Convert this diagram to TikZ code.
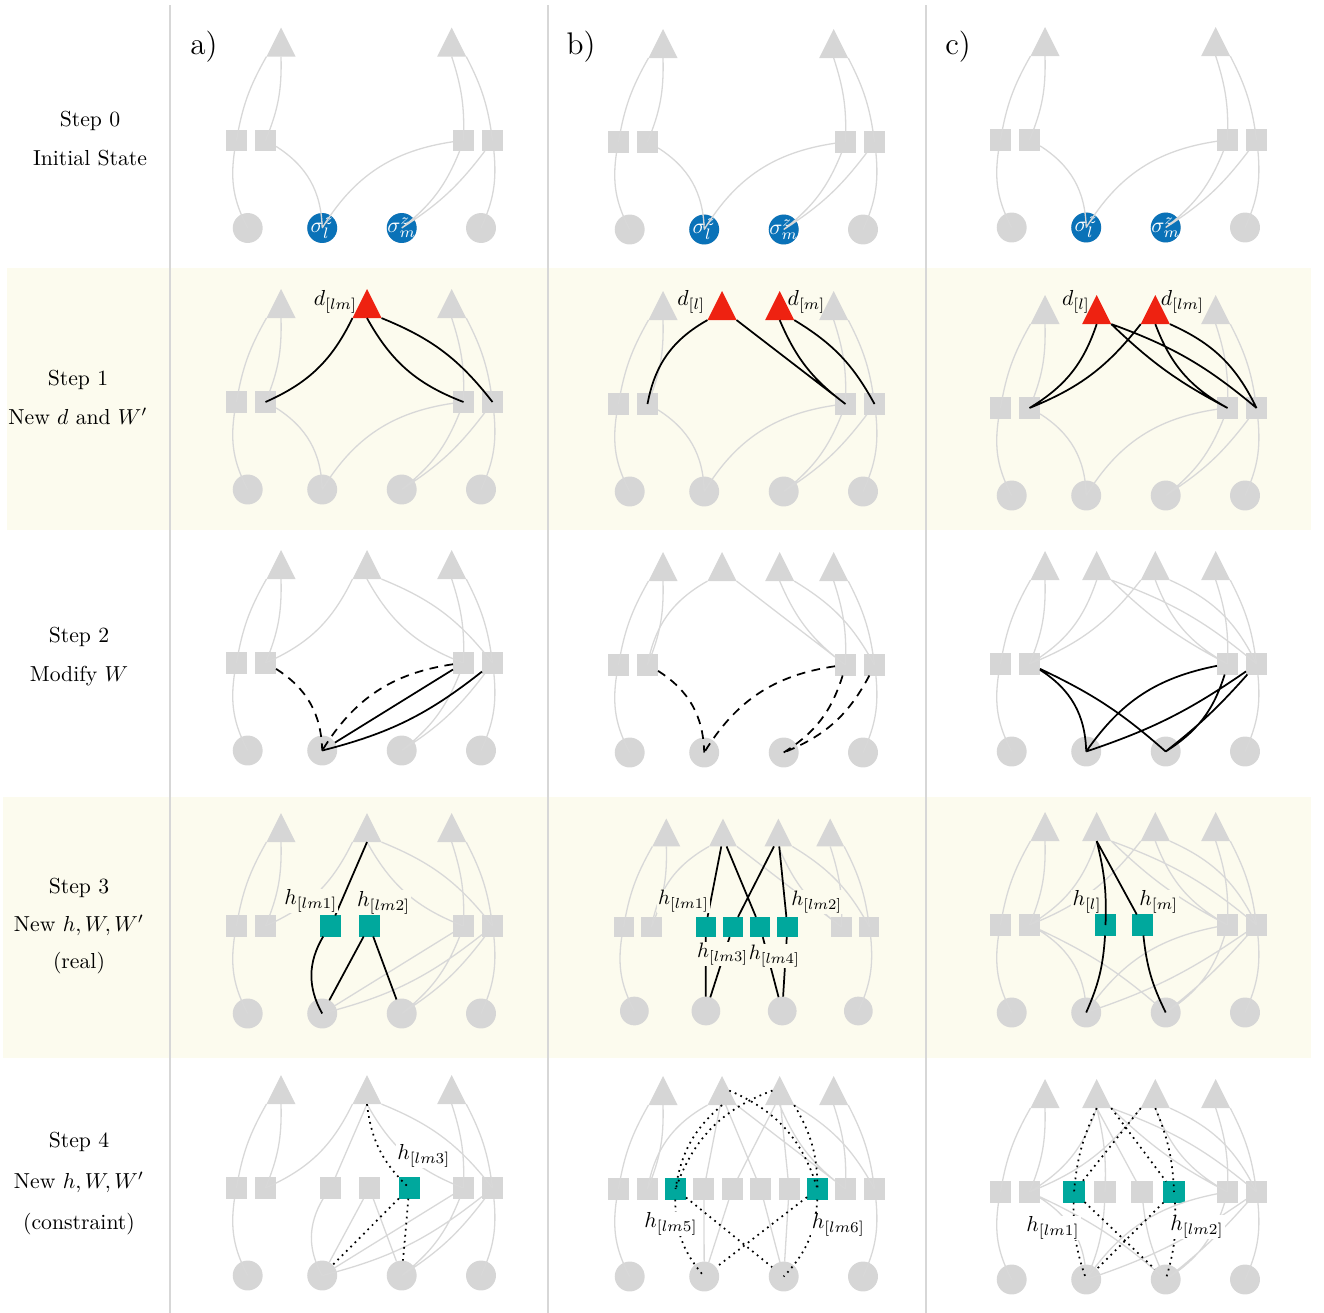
\documentclass[tikz,border=0pt]{standalone}
\usepackage{amsmath,amssymb}
\usepackage{tikz}
\usetikzlibrary{shapes.geometric}
\usepackage{xcolor}
\definecolor{nodegray}{RGB}{214,214,214}
\definecolor{wiregray}{RGB}{216,216,216}
\definecolor{newred}{RGB}{238,34,17}
\definecolor{hteal}{RGB}{0,168,157}
\definecolor{spinblue}{RGB}{10,114,184}
\definecolor{bandbeige}{RGB}{252,251,238}
\definecolor{rulegray}{RGB}{215,215,215}

\tikzset{
  tri/.style={isosceles triangle, isosceles triangle stretches, shape border rotate=90,
    minimum width=13.4pt, minimum height=13.4pt, inner sep=0pt, outer sep=0pt,
    fill=nodegray, anchor=apex},
  sq/.style={rectangle, minimum size=9.7pt, inner sep=0pt, outer sep=0pt, fill=nodegray},
  circ/.style={circle, minimum size=13.8pt, inner sep=0pt, outer sep=0pt, fill=nodegray},
  dnew/.style={tri, fill=newred},
  hnew/.style={sq, fill=hteal},
  spin/.style={circ, fill=spinblue},
  spintext/.style={text=white, font=\fontsize{10}{12}\selectfont, inner sep=0pt},
  wire/.style={draw=wiregray, line width=0.6pt},
  link/.style={draw=black, line width=0.8pt},
  cut/.style={link, dash pattern=on 4pt off 3pt},
  cons/.style={link, dotted},
  lab/.style={inner sep=0.5pt, fill=#1},
  lab/.default=white,
  steplab/.style={align=center},
  colname/.style={font=\Large},
}

% the eight gray nodes every panel starts from, plus the wires that never change
\newcommand{\panelbase}{%
  \node[tri] (t1) at (-83.5,113) {};
  \node[tri] (t2) at (87.2,113) {};
  \foreach \n/\x in {1/-128,2/-99,3/99,4/128}
    \node[sq] (s\n) at (\x,0) {};
  \foreach \n/\x in {1/-116.8,2/-42.3,3/37.2,4/116.5}
    \node[circ] (c\n) at (\x,-87.5) {};
  \draw[wire] (t1.left corner) to[bend right=10] (s1) (t1.south) to[bend left=12] (s2)
    (t2.south) to[bend left=10] (s3) (t2.right corner) to[bend left=10] (s4)
    (s1) to[bend right=18] (c1) (s4) to[bend left=15] (c4);
}
% the initial W between squares and the two middle circles
\newcommand{\oldwires}{%
  \draw[wire] (s2) to[bend left=28] (c2) (s3) to[bend right=25] (c2)
    (s3) to[bend left=15] (c3) (s4) to[bend left=10] (c3);
}

\begin{document}
\begin{tikzpicture}[x=0.4608pt, y=0.4608pt]
  \useasboundingbox (0,0) rectangle (1324,-1313);
  \def\xa{364.5}
  \def\xb{746.5}
  \def\xc{1128.5}

  % shaded rows and column rules
  \fill[bandbeige] (7,-268) rectangle (1311,-530);
  \fill[bandbeige] (3,-797) rectangle (1311,-1058);
  \foreach \x in {170,548,926}
    \draw[rulegray, line width=0.7pt] (\x,-5) -- (\x,-1313);

  % row titles
  \node[steplab] (step0) at (90,-138.5) {Step 0\\[6pt] Initial State};
  \node[steplab] (step1) at (78,-397.5) {Step 1\\[6pt] New $d$ and $W'$};
  \node[steplab] (step2) at (79,-657) {Step 2\\[6pt] Modify $W$};
  \node[steplab] (step3) at (79,-926.5) {Step 3\\[5.3pt] New $h, W, W'$\\[5.3pt] (real)};
  \node[steplab] (step4) at (79,-1183.5) {Step 4\\[7pt] New $h, W, W'$\\[7pt] (constraint)};

  % column titles
  \node[colname] (cola) at (204,-47) {a)};
  \node[colname] (colb) at (581,-47) {b)};
  \node[colname] (colc) at (958,-47) {c)};

  %%%%%%%%%%%%%%%% column a %%%%%%%%%%%%%%%%
  \begin{scope}[shift={(\xa,-140.5)}, name prefix=a0-]
    \panelbase
    \node[spin, label={[spintext]center:$\sigma^z_l$}] (c2) at (-42.3,-87.5) {};
    \node[spin, label={[spintext]center:$\sigma^z_m$}] (c3) at (37.2,-87.5) {};
    \oldwires
  \end{scope}

  \begin{scope}[shift={(\xa,-402)}, name prefix=a1-]
    \panelbase
    \oldwires
    \node[dnew] (d) at (2.5,113) {};
    \draw[link] (d.left corner) to[bend left=20] (s2) (d.south) to[bend right=20] (s3)
      (d.right corner) to[bend left=15] (s4);
    \node[lab=none] (dlab) at (-29,100) {$d_{[lm]}$};
  \end{scope}

  \begin{scope}[shift={(\xa,-663)}, name prefix=a2-]
    \panelbase
    \node[tri] (d) at (2.5,113) {};
    \draw[wire] (d.left corner) to[bend left=20] (s2) (d.south) to[bend right=20] (s3)
      (d.right corner) to[bend left=15] (s4)
      (s3) to[bend left=15] (c3) (s4) to[bend left=10] (c3);
    \draw[cut] (s2) to[bend left=28] (c2) (s3) to[bend right=25] (c2);
    \draw[link] (s3) -- (c2) (s4) to[bend left=12] (c2);
  \end{scope}

  \begin{scope}[shift={(\xa,-926)}, name prefix=a3-]
    \panelbase
    \node[tri] (d) at (2.5,113) {};
    \node[hnew] (h1) at (-33.8,0) {};
    \node[hnew] (h2) at (4.8,0) {};
    \draw[wire] (d.left corner) to[bend left=20] (s2) (d.south) to[bend right=20] (s3)
      (d.right corner) to[bend left=15] (s4)
      (s3) -- (c2) (s4) to[bend left=12] (c2) (s3) to[bend left=15] (c3) (s4) to[bend left=10] (c3);
    \draw[link] (d.south) -- (h1) (h1) to[bend right=30] (c2) (h2) -- (c2) (h2) -- (c3);
    \node[lab=bandbeige] (hlab1) at (-53.7,25) {$h_{[lm1]}$};
    \node[lab=bandbeige] (hlab2) at (19.2,23.5) {$h_{[lm2]}$};
  \end{scope}

  \begin{scope}[shift={(\xa,-1188)}, name prefix=a4-]
    \panelbase
    \node[tri] (d) at (2.5,113) {};
    \node[sq] (h1) at (-33.8,0) {};
    \node[sq] (h2) at (4.8,0) {};
    \node[hnew] (h3) at (44.8,0) {};
    \draw[wire] (d.left corner) to[bend left=20] (s2) (d.south) to[bend right=20] (s3)
      (d.right corner) to[bend left=15] (s4)
      (s3) -- (c2) (s4) to[bend left=12] (c2) (s3) to[bend left=15] (c3) (s4) to[bend left=10] (c3)
      (d.south) -- (h1) (h1) to[bend right=30] (c2) (h2) -- (c2) (h2) -- (c3);
    \draw[cons] (d.south) to[bend right=20] (h3) (h3) -- (c2) (h3) -- (c3);
    \node[lab] (hlab3) at (59.3,32) {$h_{[lm3]}$};
  \end{scope}

  %%%%%%%%%%%%%%%% column b %%%%%%%%%%%%%%%%
  \begin{scope}[shift={(\xb,-142)}, name prefix=b0-]
    \panelbase
    \node[spin, label={[spintext]center:$\sigma^z_l$}] (c2) at (-42.3,-87.5) {};
    \node[spin, label={[spintext]center:$\sigma^z_m$}] (c3) at (37.2,-87.5) {};
    \oldwires
  \end{scope}

  \begin{scope}[shift={(\xb,-404)}, name prefix=b1-]
    \panelbase
    \oldwires
    \node[dnew] (dl) at (-24.5,113) {};
    \node[dnew] (dm) at (33.2,113) {};
    \draw[link] (dl.left corner) to[bend right=25] (s2) (dl.right corner) -- (s3)
      (dm.south) to[bend right=15] (s3) (dm.right corner) to[bend left=15] (s4);
    \node[lab=none] (dlab) at (-55.2,102) {$d_{[l]}$};
    \node[lab=none] (dmlab) at (60,102) {$d_{[m]}$};
  \end{scope}

  \begin{scope}[shift={(\xb,-665)}, name prefix=b2-]
    \panelbase
    \node[tri] (dl) at (-24.5,113) {};
    \node[tri] (dm) at (33.2,113) {};
    \draw[wire] (dl.left corner) to[bend right=25] (s2) (dl.right corner) -- (s3)
      (dm.south) to[bend right=15] (s3) (dm.right corner) to[bend left=15] (s4);
    \draw[cut] (s2) to[bend left=28] (c2) (s3) to[bend right=25] (c2)
      (s3) to[bend left=20] (c3) (s4) to[bend left=20] (c3);
  \end{scope}

  % four new factors do not fit: shrink this panel a little
  \begin{scope}[shift={(\xb,-927)}, scale=0.96, transform shape, name prefix=b3-]
    \panelbase
    \node[tri] (dl) at (-24.5,113) {};
    \node[tri] (dm) at (33.2,113) {};
    \foreach \n/\x in {1/-42.6,2/-14.2,3/14.2,4/42.6}
      \node[hnew] (h\n) at (\x,0) {};
    \draw[wire] (dl.left corner) to[bend right=25] (s2) (dl.right corner) -- (s3)
      (dm.south) to[bend right=15] (s3) (dm.right corner) to[bend left=15] (s4);
    \draw[link] (dl) -- (h1) (dl) -- (h3) (dm) -- (h2) (dm) -- (h4)
      (h1) -- (c2) (h2) -- (c2) (h3) -- (c3) (h4) -- (c3);
    \node[lab=bandbeige] (hlab1) at (-65.6,27) {$h_{[lm1]}$};
    \node[lab=bandbeige] (hlab2) at (73.2,26) {$h_{[lm2]}$};
    \node[lab=bandbeige] (hlab3) at (-24.8,-28) {$h_{[lm3]}$};
    \node[lab=bandbeige] (hlab4) at (29,-30) {$h_{[lm4]}$};
  \end{scope}

  \begin{scope}[shift={(\xb,-1189)}, name prefix=b4-]
    \panelbase
    \node[tri] (dl) at (-24.5,113) {};
    \node[tri] (dm) at (33.2,113) {};
    \foreach \n/\x in {1/-42.6,2/-14.2,3/14.2,4/42.6}
      \node[sq] (g\n) at (\x,0) {};
    \node[hnew] (h5) at (-71,0) {};
    \node[hnew] (h6) at (71,0) {};
    \draw[wire] (dl.left corner) to[bend right=25] (s2) (dl.right corner) -- (s3)
      (dm.south) to[bend right=15] (s3) (dm.right corner) to[bend left=15] (s4)
      (dl) -- (g1) (dl) -- (g3) (dm) -- (g2) (dm) -- (g4)
      (g1) -- (c2) (g2) -- (c2) (g3) -- (c3) (g4) -- (c3);
    \draw[cons] (dl.south) to[bend right=20] (h5) (dm.left side) to[bend right=25] (h5)
      (dl.right side) to[bend left=25] (h6) (dm.right corner) to[bend left=15] (h6)
      (h5) to[bend right=20] (c2) (h5) -- (c3) (h6) -- (c2) (h6) to[bend left=20] (c3);
    \node[lab] (hlab5) at (-75.5,-35) {$h_{[lm5]}$};
    \node[lab] (hlab6) at (91.8,-36) {$h_{[lm6]}$};
  \end{scope}

  %%%%%%%%%%%%%%%% column c %%%%%%%%%%%%%%%%
  \begin{scope}[shift={(\xc,-140)}, name prefix=c0-]
    \panelbase
    \node[spin, label={[spintext]center:$\sigma^z_l$}] (c2) at (-42.3,-87.5) {};
    \node[spin, label={[spintext]center:$\sigma^z_m$}] (c3) at (37.2,-87.5) {};
    \oldwires
  \end{scope}

  \begin{scope}[shift={(\xc,-408)}, name prefix=c1-]
    \panelbase
    \oldwires
    \node[dnew] (dl) at (-31.8,113) {};
    \node[dnew] (dlm) at (26.8,113) {};
    \draw[link] (dl.south) to[bend left=20] (s2) (dlm.left corner) to[bend left=15] (s2)
      (dl.right corner) to[bend right=8] (s3) (dl.right corner) to[bend left=10] (s4)
      (dlm.south) to[bend right=20] (s3) (dlm.right corner) to[bend left=20] (s4);
    \node[lab=none] (dlab) at (-52.5,106.5) {$d_{[l]}$};
    \node[lab=none] (dlmlab) at (54,106) {$d_{[lm]}$};
  \end{scope}

  \begin{scope}[shift={(\xc,-664)}, name prefix=c2-]
    \panelbase
    \node[tri] (dl) at (-31.8,113) {};
    \node[tri] (dlm) at (26.8,113) {};
    \draw[wire] (dl.south) to[bend left=20] (s2) (dlm.left corner) to[bend left=15] (s2)
      (dl.right corner) to[bend right=8] (s3) (dl.right corner) to[bend left=10] (s4)
      (dlm.south) to[bend right=20] (s3) (dlm.right corner) to[bend left=20] (s4);
    \draw[link] (s2) to[bend left=28] (c2) (s2) to[bend left=8] (c3)
      (s3) to[bend right=22] (c2) (s4) to[bend left=8] (c2)
      (s3) to[bend left=20] (c3) (s4) to[bend left=5] (c3);
  \end{scope}

  \begin{scope}[shift={(\xc,-925)}, name prefix=c3-]
    \panelbase
    \node[tri] (dl) at (-31.8,113) {};
    \node[tri] (dlm) at (26.8,113) {};
    \node[hnew] (hl) at (-23,0) {};
    \node[hnew] (hm) at (14,0) {};
    \draw[wire] (dl.south) to[bend left=20] (s2) (dlm.left corner) to[bend left=15] (s2)
      (dl.right corner) to[bend right=8] (s3) (dl.right corner) to[bend left=10] (s4)
      (dlm.south) to[bend right=20] (s3) (dlm.right corner) to[bend left=20] (s4)
      (s2) to[bend left=28] (c2) (s2) to[bend left=8] (c3)
      (s3) to[bend right=22] (c2) (s4) to[bend left=8] (c2)
      (s3) to[bend left=20] (c3) (s4) to[bend left=5] (c3);
    \draw[link] (dl.south) to[bend left=8] (hl) (dl.south) -- (hm)
      (hl) to[bend left=10] (c2) (hm) to[bend right=10] (c3);
    \node[lab=bandbeige] (hllab) at (-41.5,23) {$h_{[l]}$};
    \node[lab=bandbeige] (hmlab) at (30.3,23) {$h_{[m]}$};
  \end{scope}

  \begin{scope}[shift={(\xc,-1192)}, name prefix=c4-]
    \panelbase
    \node[tri] (dl) at (-31.8,113) {};
    \node[tri] (dlm) at (26.8,113) {};
    \node[sq] (gl) at (-23.5,0) {};
    \node[sq] (gm) at (13.5,0) {};
    \node[hnew] (h1) at (-54.5,0) {};
    \node[hnew] (h2) at (45.5,0) {};
    \draw[wire] (dl.south) to[bend left=20] (s2) (dlm.left corner) to[bend left=15] (s2)
      (dl.right corner) to[bend right=8] (s3) (dl.right corner) to[bend left=10] (s4)
      (dlm.south) to[bend right=20] (s3) (dlm.right corner) to[bend left=20] (s4)
      (s2) to[bend left=28] (c2) (s2) to[bend left=8] (c3)
      (s3) to[bend right=22] (c2) (s4) to[bend left=8] (c2)
      (s3) to[bend left=20] (c3) (s4) to[bend left=5] (c3)
      (dl.south) to[bend left=8] (gl) (dl.south) -- (gm)
      (gl) to[bend left=10] (c2) (gm) to[bend right=10] (c3);
    \draw[cons] (dl.south) to[bend right=10] (h1) (dlm.left corner) -- (h1)
      (dl.right corner) -- (h2) (dlm.south) to[bend left=10] (h2)
      (h1) to[bend right=10] (c2) (h1) -- (c3)
      (h2) -- (c2) (h2) to[bend left=10] (c3);
    \node[lab] (hlab1) at (-75.5,-36) {$h_{[lm1]}$};
    \node[lab] (hlab2) at (68.5,-35) {$h_{[lm2]}$};
  \end{scope}
\end{tikzpicture}
\end{document}
